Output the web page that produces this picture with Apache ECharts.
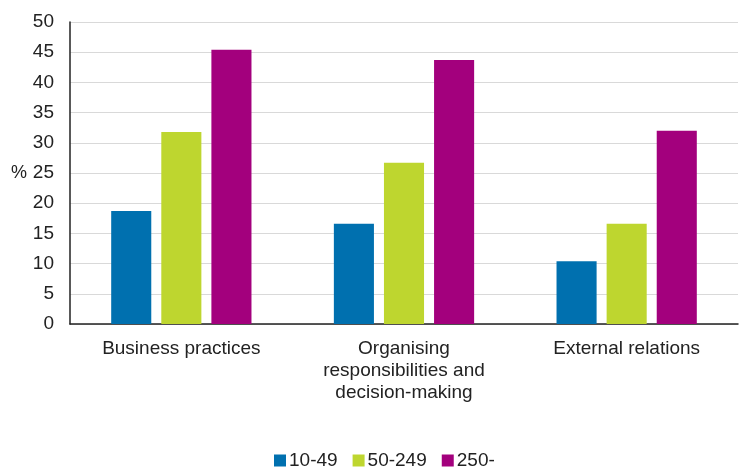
<!DOCTYPE html>
<html>
<head>
<meta charset="utf-8">
<script src="https://cdn.jsdelivr.net/npm/echarts@6/dist/echarts.min.js"></script>
<style>
html,body{margin:0;padding:0;background:#fff;}
#main{width:740px;height:470px;}
</style>
</head>
<body>
<div id="main"></div>
<script>
const categories = ['Business practices', 'Organising\nresponsibilities and\ndecision-making', 'External relations'];
const seriesNames = ['10-49', '50-249', '250-'];
const values1049 = [18.7, 16.6, 10.4];
const values50249 = [31.8, 26.7, 16.6];
const values250 = [45.4, 43.7, 32.0];
const colors = ['#0070AF', '#BED62F', '#A3007D'];

const chart = echarts.init(document.getElementById('main'));
const font = 'Liberation Sans, Arial, sans-serif';
chart.setOption({
  animation: false,
  grid: {left: 70, right: 2, top: 22, bottom: 146, containLabel: false},
  legend: {
    top: 446, left: 269,
    itemWidth: 12, itemHeight: 12, itemGap: 15,
    icon: 'rect',
    textStyle: {fontFamily: font, fontSize: 19, color: '#222', padding: [0, 0, 0, -2]},
    data: seriesNames
  },
  xAxis: {
    type: 'category', data: categories,
    axisLine: {lineStyle: {color: '#222', width: 1.5}},
    axisTick: {show: false},
    axisLabel: {fontFamily: font, fontSize: 19, color: '#222', margin: 14, lineHeight: 22, interval: 0}
  },
  yAxis: {
    type: 'value', min: 0, max: 50, interval: 5,
    name: '%', nameLocation: 'middle', nameRotate: 0, nameGap: 43,
    nameTextStyle: {fontFamily: font, fontSize: 18, color: '#222', padding: [14, 0, 0, 0]},
    axisLine: {show: true, lineStyle: {color: '#222', width: 1.5}},
    axisTick: {show: false},
    axisLabel: {fontFamily: font, fontSize: 19, color: '#222', margin: 16},
    splitLine: {lineStyle: {color: '#d9d9d9', width: 1}}
  },
  series: [
    {name: seriesNames[0], type: 'bar', data: values1049, itemStyle: {color: colors[0]}, barWidth: '18%', barGap: '25%'},
    {name: seriesNames[1], type: 'bar', data: values50249, itemStyle: {color: colors[1]}, barWidth: '18%', barGap: '25%'},
    {name: seriesNames[2], type: 'bar', data: values250, itemStyle: {color: colors[2]}, barWidth: '18%', barGap: '25%'}
  ]
});
</script>
</body>
</html>
